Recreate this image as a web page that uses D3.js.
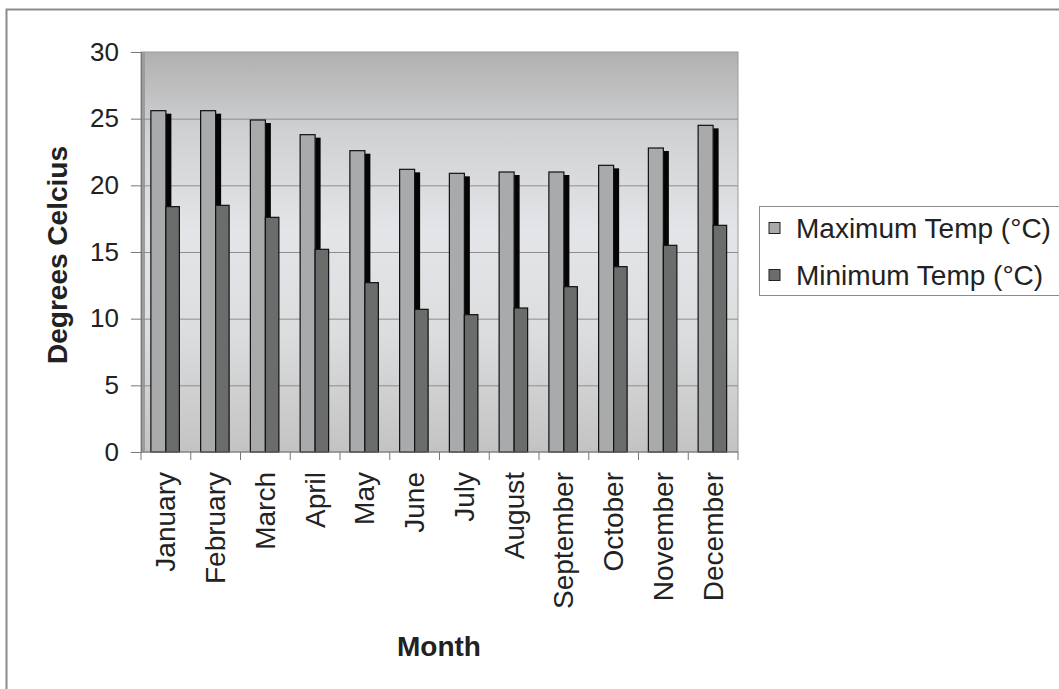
<!DOCTYPE html>
<html>
<head>
<meta charset="utf-8">
<script src="https://cdn.jsdelivr.net/npm/d3@7"></script>
<style>
    body { margin: 0; background: #fff; }
    text { font-family: "Liberation Sans", Arial, sans-serif; fill: #222; }
</style>
</head>
<body>
<div id="chart"></div>
<script>
(function (d3) {
    'use strict';

    var months = ['January', 'February', 'March', 'April', 'May', 'June',
        'July', 'August', 'September', 'October', 'November', 'December'];
    var maxTemp = [25.6, 25.6, 24.9, 23.8, 22.6, 21.2, 20.9, 21.0, 21.0, 21.5, 22.8, 24.5];
    var minTemp = [18.4, 18.5, 17.6, 15.2, 12.7, 10.7, 10.3, 10.8, 12.4, 13.9, 15.5, 17.0];
    var yTicks = [0, 5, 10, 15, 20, 25, 30];
    var seriesNames = ['Maximum Temp (°C)', 'Minimum Temp (°C)'];
    var seriesColors = ['#a9aaab', '#6b6c6c'];

    var width = 1059, height = 689;
    var plot = {left: 141, right: 738, top: 52, bottom: 452};

    var svg = d3.select('#chart').append('svg')
        .attr('width', width)
        .attr('height', height)
    ;

    // outer frame, cut by the right and bottom edges
    svg.append('path')
        .attr('d', 'M6.5,' + height + 'V9.5H' + width)
        .attr('fill', 'none')
        .attr('stroke', '#8c8c8c')
        .attr('stroke-width', 2)
    ;

    var x = d3.scaleBand().domain(months).range([plot.left, plot.right]);
    var y = d3.scaleLinear().domain([0, 30]).range([plot.bottom, plot.top]);

    var grad = svg.append('defs').append('linearGradient')
        .attr('id', 'bg')
        .attr('x1', 0).attr('y1', 0).attr('x2', 0).attr('y2', 1)
    ;
    [[0, '#b0b0b0'], [0.2, '#d0d1d3'], [0.45, '#e4e5e8'], [0.7, '#dcdddf'], [1, '#c3c3c3']]
        .forEach(function (s) {
            grad.append('stop').attr('offset', s[0]).attr('stop-color', s[1]);
        });

    svg.append('rect')
        .attr('x', plot.left)
        .attr('y', plot.top)
        .attr('width', plot.right - plot.left)
        .attr('height', plot.bottom - plot.top)
        .attr('fill', 'url(#bg)')
        .attr('stroke', '#9a9a9a')
    ;

    // darker left wall edge
    svg.append('rect')
        .attr('x', plot.left)
        .attr('y', plot.top)
        .attr('width', 4)
        .attr('height', plot.bottom - plot.top)
        .attr('fill', '#9c9c9c')
    ;

    // gridlines
    svg.append('g')
        .selectAll('line')
        .data(yTicks.slice(1, -1))
        .join('line')
        .attr('x1', plot.left)
        .attr('x2', plot.right)
        .attr('y1', function (d) { return y(d) + 0.5; })
        .attr('y2', function (d) { return y(d) + 0.5; })
        .attr('stroke', '#8e8e8e')
    ;

    var bw = x.bandwidth();
    var groups = svg.append('g')
        .selectAll('g')
        .data(months)
        .join('g')
        .attr('transform', function (m) { return 'translate(' + (x(m) + bw / 2) + ',0)'; })
    ;

    // shadow strip behind max bar
    groups.append('rect')
        .attr('x', 0)
        .attr('width', 5.5)
        .attr('y', function (m, i) { return y(maxTemp[i]) + 3; })
        .attr('height', function (m, i) { return y(minTemp[i]) - y(maxTemp[i]) - 3; })
        .attr('fill', '#050505')
    ;

    groups.append('rect')
        .attr('x', -15)
        .attr('width', 15)
        .attr('y', function (m, i) { return y(maxTemp[i]); })
        .attr('height', function (m, i) { return y(0) - y(maxTemp[i]); })
        .attr('fill', seriesColors[0])
        .attr('stroke', '#111')
        .attr('stroke-width', 1.2)
    ;

    groups.append('rect')
        .attr('x', 0)
        .attr('width', 13.5)
        .attr('y', function (m, i) { return y(minTemp[i]); })
        .attr('height', function (m, i) { return y(0) - y(minTemp[i]); })
        .attr('fill', seriesColors[1])
        .attr('stroke', '#111')
        .attr('stroke-width', 1.2)
    ;

    // y axis
    var yAxis = svg.append('g')
        .attr('transform', 'translate(' + plot.left + ',0)')
        .call(d3.axisLeft(y).tickValues(yTicks).tickSize(10).tickPadding(12))
    ;
    yAxis.select('.domain').attr('stroke', '#777');
    yAxis.selectAll('.tick line').attr('stroke', '#777');
    yAxis.selectAll('text')
        .attr('font-size', 26)
        .attr('font-family', '"Liberation Sans", Arial, sans-serif')
        .attr('fill', '#222')
    ;

    // x axis ticks at band boundaries
    var xAxis = svg.append('g');
    xAxis.append('line')
        .attr('x1', plot.left).attr('x2', plot.right)
        .attr('y1', plot.bottom).attr('y2', plot.bottom)
        .attr('stroke', '#777')
    ;
    xAxis.selectAll('.xtick')
        .data(months.concat(['']))
        .join('line')
        .attr('class', 'xtick')
        .attr('x1', function (m, i) { return plot.left + i * bw; })
        .attr('x2', function (m, i) { return plot.left + i * bw; })
        .attr('y1', plot.bottom)
        .attr('y2', plot.bottom + 8)
        .attr('stroke', '#777')
    ;
    xAxis.selectAll('.xlabel')
        .data(months)
        .join('text')
        .attr('class', 'xlabel')
        .attr('transform', function (m) {
            return 'translate(' + (x(m) + bw / 2 + 9.5) + ',' + (plot.bottom + 20) + ') rotate(-90)';
        })
        .attr('text-anchor', 'end')
        .attr('font-size', 28)
        .text(function (m) { return m; })
    ;

    // axis titles
    svg.append('text')
        .attr('transform', 'translate(' + 67 + ',' + 255 + ') rotate(-90)')
        .attr('text-anchor', 'middle')
        .attr('font-size', 28)
        .attr('font-weight', 'bold')
        .text('Degrees Celcius')
    ;
    svg.append('text')
        .attr('x', 439)
        .attr('y', 656)
        .attr('text-anchor', 'middle')
        .attr('font-size', 28)
        .attr('font-weight', 'bold')
        .text('Month')
    ;

    // legend
    var legend = svg.append('g').attr('transform', 'translate(759,206)');
    legend.append('rect')
        .attr('x', 0.5).attr('y', 0.5)
        .attr('width', 320).attr('height', 89)
        .attr('fill', '#fff')
        .attr('stroke', '#8c8c8c')
    ;
    var items = legend.selectAll('.item')
        .data(seriesNames)
        .join('g')
        .attr('class', 'item')
        .attr('transform', function (d, i) { return 'translate(0,' + (22 + i * 47) + ')'; })
    ;
    items.append('rect')
        .attr('x', 10).attr('y', -5.5)
        .attr('width', 11).attr('height', 11)
        .attr('fill', function (d, i) { return seriesColors[i]; })
        .attr('stroke', '#222')
    ;
    items.append('text')
        .attr('x', 37)
        .attr('dy', '0.36em')
        .attr('font-size', 28)
        .text(function (d) { return d; })
    ;

})(d3);
</script>
</body>
</html>
